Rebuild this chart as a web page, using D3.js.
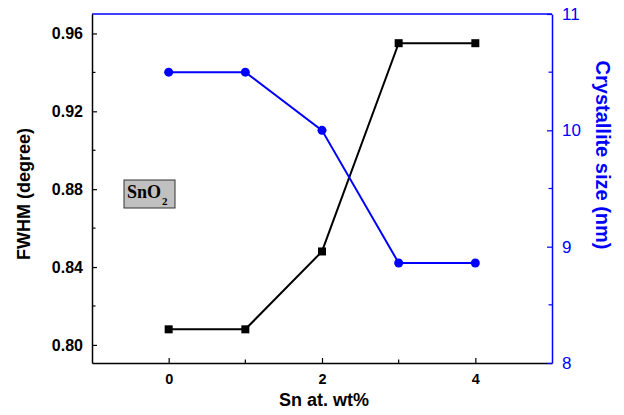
<!DOCTYPE html>
<html>
<head>
<meta charset="utf-8">
<script src="https://cdn.jsdelivr.net/npm/d3@7"></script>
<style>
  body { margin: 0; background: #fff; }
</style>
</head>
<body>
<svg id="chart" width="624" height="415" font-family="Arial, 'Liberation Sans', sans-serif"></svg>
<script>
// data
const snContent = [0, 1, 2, 3, 4]
const fwhm = [0.808, 0.808, 0.848, 0.955, 0.955]
const crystalliteSize = [10.5, 10.5, 10.0, 8.86, 8.86]
const xTicks = [0, 2, 4]
const xMinorTicks = [1, 3]
const leftTicks = [0.80, 0.84, 0.88, 0.92, 0.96]
const leftMinorTicks = [0.82, 0.86, 0.90, 0.94]
const rightTicks = [8, 9, 10, 11]
const rightMinorTicks = [8.5, 9.5, 10.5]

const blue = "#0000ff"
const sans = "Arial, 'Liberation Sans', sans-serif"
const m = {left: 92, right: 552, top: 14, bottom: 363}
const svg = d3.select("#chart")

const x = d3.scaleLinear().domain([-1, 5]).range([m.left, m.right])
const yL = d3.scaleLinear().domain([0.7907, 0.970]).range([m.bottom, m.top])
const yR = d3.scaleLinear().domain([8, 11]).range([m.bottom, m.top])

// top border in blue (belongs to the right axis)
svg.append("line").attr("x1", m.left).attr("x2", m.right).attr("y1", m.top).attr("y2", m.top)
  .attr("stroke", blue).attr("stroke-width", 1.5)

function styleAxis(g, color) {
  g.attr("font-family", sans)
  g.select(".domain").attr("stroke", color).attr("stroke-width", 1.5)
  g.selectAll(".tick line").attr("stroke", color).attr("stroke-width", 1.2)
}

// bottom axis
const gx = svg.append("g").attr("transform", `translate(0,${m.bottom})`)
  .call(d3.axisBottom(x).tickValues(xTicks).tickSizeInner(-5).tickSizeOuter(0).tickPadding(11).tickFormat(d3.format("d")))
gx.append("g").selectAll("line").data(xMinorTicks).enter().append("line")
  .attr("x1", d => x(d)).attr("x2", d => x(d)).attr("y1", 0).attr("y2", -3.5)
  .attr("stroke", "#000").attr("stroke-width", 1.2)
styleAxis(gx, "#000")
gx.selectAll(".tick text").attr("font-size", 14.5).attr("font-weight", "bold").attr("fill", "#000")

// left axis
const gl = svg.append("g").attr("transform", `translate(${m.left},0)`)
  .call(d3.axisLeft(yL).tickValues(leftTicks).tickSizeInner(-5).tickSizeOuter(0).tickPadding(9).tickFormat(d3.format(".2f")))
gl.append("g").selectAll("line").data(leftMinorTicks).enter().append("line")
  .attr("y1", d => yL(d)).attr("y2", d => yL(d)).attr("x1", 0).attr("x2", 3.5)
  .attr("stroke", "#000").attr("stroke-width", 1.2)
styleAxis(gl, "#000")
gl.selectAll(".tick text").attr("font-size", 16).attr("font-weight", "bold").attr("fill", "#000")

// right axis
const gr = svg.append("g").attr("transform", `translate(${m.right},0)`)
  .call(d3.axisRight(yR).tickValues(rightTicks).tickSizeInner(-5).tickSizeOuter(0).tickPadding(10).tickFormat(d3.format("d")))
gr.append("g").selectAll("line").data(rightMinorTicks).enter().append("line")
  .attr("y1", d => yR(d)).attr("y2", d => yR(d)).attr("x1", 0).attr("x2", -3.5)
  .attr("stroke", blue).attr("stroke-width", 1.2)
styleAxis(gr, blue)
gr.selectAll(".tick text").attr("font-size", 17).attr("fill", blue)

// axis titles
svg.append("text").attr("transform", "translate(29.5,194) rotate(-90)")
  .attr("text-anchor", "middle").attr("font-size", 18).attr("font-weight", "bold").text("FWHM (degree)")
svg.append("text").attr("transform", "translate(596,155) rotate(90)")
  .attr("text-anchor", "middle").attr("font-size", 20).attr("font-weight", "bold").attr("fill", blue)
  .text("Crystallite size (nm)")
svg.append("text").attr("x", 324).attr("y", 405.5)
  .attr("text-anchor", "middle").attr("font-size", 18).attr("font-weight", "bold").text("Sn at. wt%")

// FWHM series
svg.append("path").datum(snContent)
  .attr("d", d3.line().x(d => x(d)).y((d, i) => yL(fwhm[i])))
  .attr("fill", "none").attr("stroke", "#000").attr("stroke-width", 2)
svg.append("g").selectAll("rect").data(snContent).enter().append("rect")
  .attr("x", d => x(d) - 4).attr("y", (d, i) => yL(fwhm[i]) - 4)
  .attr("width", 8).attr("height", 8).attr("fill", "#000")

// crystallite size series
svg.append("path").datum(snContent)
  .attr("d", d3.line().x(d => x(d)).y((d, i) => yR(crystalliteSize[i])))
  .attr("fill", "none").attr("stroke", blue).attr("stroke-width", 2)
svg.append("g").selectAll("circle").data(snContent).enter().append("circle")
  .attr("cx", d => x(d)).attr("cy", (d, i) => yR(crystalliteSize[i]))
  .attr("r", 4.5).attr("fill", blue)

// SnO2 label box
svg.append("rect").attr("x", 124).attr("y", 180).attr("width", 51).attr("height", 28)
  .attr("fill", "#c0c0c0").attr("stroke", "#333").attr("stroke-width", 1)
const lab = svg.append("text").attr("x", 127).attr("y", 197.5)
  .attr("font-family", "'Liberation Serif', 'Times New Roman', serif")
  .attr("font-weight", "bold").attr("font-size", 18)
lab.append("tspan").text("SnO")
lab.append("tspan").attr("font-size", 11).attr("dx", 1).attr("dy", 7).text("2")
</script>
</body>
</html>
